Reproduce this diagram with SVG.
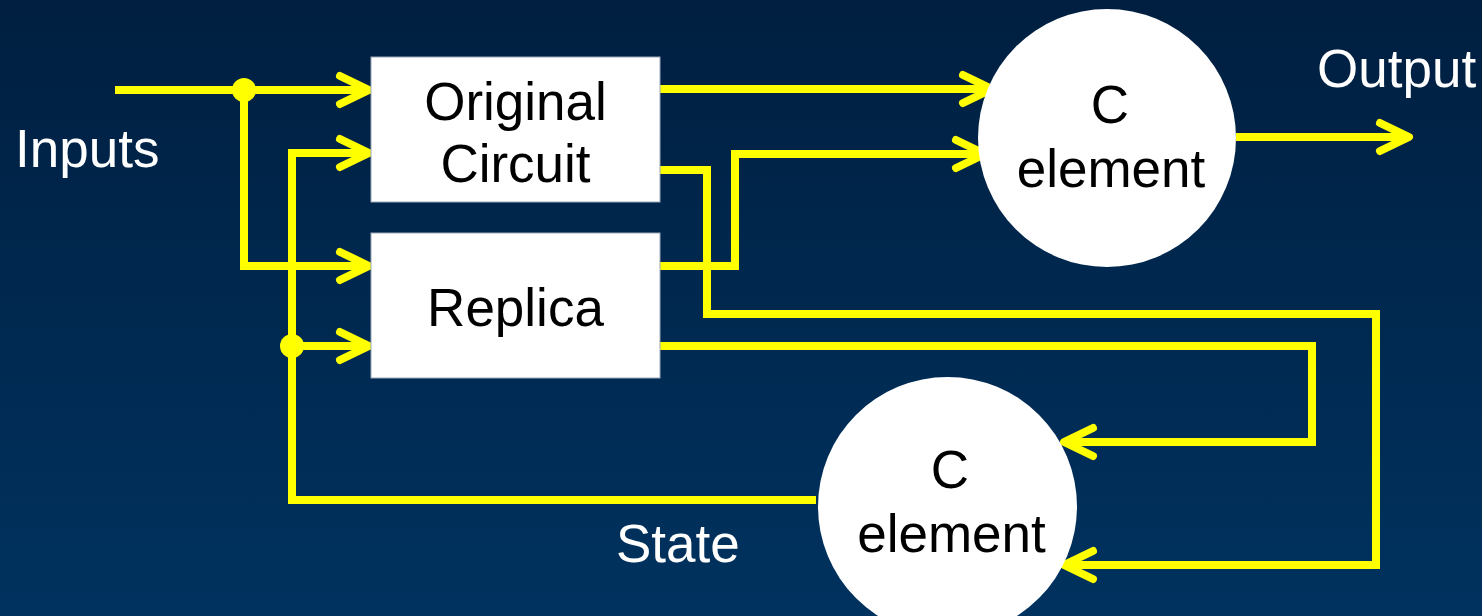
<svg xmlns="http://www.w3.org/2000/svg" width="1482" height="616" viewBox="0 0 1482 616">
  <defs>
    <linearGradient id="bg" x1="0" y1="0" x2="0" y2="1">
      <stop offset="0" stop-color="#001f40"/>
      <stop offset="1" stop-color="#00325f"/>
    </linearGradient>
    <marker id="arr" markerUnits="userSpaceOnUse" viewBox="-40 -20 46 40" markerWidth="46" markerHeight="40" refX="0" refY="0" orient="auto" overflow="visible">
      <path d="M-29,-14 L0,0 L-29,14" fill="none" stroke="#ffff00" stroke-width="8" stroke-linecap="round" stroke-linejoin="round"/>
    </marker>
  </defs>
  <style>
    .w { fill: none; stroke: #ffff00; stroke-width: 8; stroke-linejoin: miter; }
    .a { marker-end: url(#arr); }
    .dot { fill: #ffff00; }
    .box { fill: #ffffff; stroke: #9aa8bb; stroke-width: 1; }
    .circ { fill: #ffffff; }
    .t { font-family: "Liberation Sans", Arial, sans-serif; font-size: 53px; }
    .blk { fill: #000000; text-anchor: middle; }
    .wht { fill: #ffffff; }
  </style>
  <rect x="0" y="0" width="1482" height="616" fill="url(#bg)"/>

  <g id="connectors">
    <path class="w a" d="M115,90 H369"/>
    <path class="w a" d="M244,90 V266 H369"/>
    <path class="w a" d="M816,500 H292 V153 H369"/>
    <path class="w a" d="M292,346 H369"/>
    <path class="w a" d="M660,89 H992"/>
    <path class="w a" d="M660,266 H735 V154 H985"/>
    <path class="w a" d="M660,170 H707 V314 H1376 V565 H1064"/>
    <path class="w a" d="M660,346 H1312 V442 H1064"/>
    <path class="w a" d="M1236,137 H1409"/>
    <circle class="dot" cx="244" cy="90" r="12"/>
    <circle class="dot" cx="292" cy="346" r="12"/>
  </g>

  <g id="original-circuit">
    <rect class="box" x="371" y="57" width="289" height="145"/>
    <text class="t blk" x="515.5" y="120">Original</text>
    <text class="t blk" x="515.5" y="182">Circuit</text>
  </g>

  <g id="replica">
    <rect class="box" x="371" y="233" width="289" height="145"/>
    <text class="t blk" x="515.5" y="326">Replica</text>
  </g>

  <g id="c-element-1">
    <circle class="circ" cx="1107" cy="138" r="129"/>
    <text class="t blk" x="1110" y="123">C</text>
    <text class="t blk" x="1111" y="187">element</text>
  </g>

  <g id="c-element-2">
    <circle class="circ" cx="947.5" cy="506.5" r="129.5"/>
    <text class="t blk" x="950" y="488">C</text>
    <text class="t blk" x="951.5" y="552">element</text>
  </g>

  <g id="labels">
    <text class="t wht" x="15" y="167">Inputs</text>
    <text class="t wht" x="1317" y="87">Output</text>
    <text class="t wht" x="616" y="562">State</text>
  </g>
</svg>
